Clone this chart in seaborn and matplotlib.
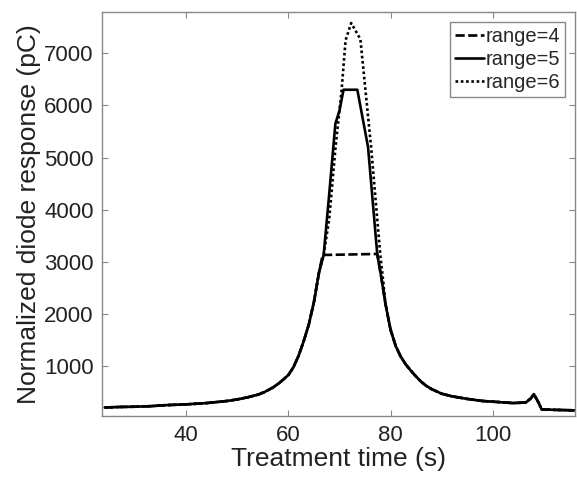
import matplotlib
matplotlib.use('Agg')
from matplotlib import pyplot as plt
import seaborn as sns
import pandas as pd

sns.set_theme(style='white')
plt.rcParams['font.family'] = ['Liberation Sans', 'DejaVu Sans']

# shared rise / tail of the diode curves
rise_t = [24, 27, 30, 33, 36, 40, 44, 48, 50, 52, 54, 55.3, 57, 58, 59, 60, 61, 62, 63, 64, 65, 66]
rise_v = [205, 215, 220, 230, 250, 265, 290, 330, 360, 400, 450, 500, 590, 660, 740, 830, 980, 1200, 1480, 1800, 2230, 2800]
tail_t = [79, 80, 81, 82, 83, 84, 85, 86, 87, 88, 90, 92, 95, 98, 104, 106.5, 107.5, 108.1, 109, 109.6, 112, 116]
tail_v = [2200, 1700, 1390, 1180, 1030, 910, 800, 700, 620, 560, 470, 420, 370, 330, 290, 300, 380, 460, 300, 170, 160, 150]

# peak region per range setting
peak4_t = [66.7, 77.4, 78.2]
peak4_v = [3130, 3150, 2700]
peak5_t = [66.9, 67.9, 69.2, 70.0, 70.8, 73.5, 75.6, 77.4, 78.2]
peak5_v = [3130, 4200, 5650, 5900, 6300, 6300, 5200, 3150, 2700]
peak6_t = [66.9, 68.0, 69.2, 70.4, 71.2, 72.3, 74.1, 76.2, 78.0, 78.6]
peak6_v = [3130, 3830, 5170, 6270, 7250, 7580, 7270, 5200, 3130, 2600]

labels = ['range=4', 'range=5', 'range=6']
peaks = [(peak4_t, peak4_v), (peak5_t, peak5_v), (peak6_t, peak6_v)]

rows = []
for lab, (pt, pv) in zip(labels, peaks):
    for t, v in zip(rise_t + pt + tail_t, rise_v + pv + tail_v):
        rows.append([t, v, lab])
df = pd.DataFrame(rows, columns=['time', 'response', 'range'])

fig, ax = plt.subplots(figsize=(5.77, 4.83), dpi=100)
sns.lineplot(
    data=df, x='time', y='response', hue='range', style='range',
    palette=['black'] * 3,
    dashes={'range=4': (3.5, 1.3), 'range=5': '', 'range=6': (1.0, 1.0)},
    estimator=None, sort=False, linewidth=1.9, ax=ax,
)

handles, labs = ax.get_legend_handles_labels()
ax.legend(handles, labs, loc='upper right', fontsize=14.5, handlelength=1.4,
          handletextpad=0.1, borderpad=0.25, labelspacing=0.2, borderaxespad=0.5,
          fancybox=False, edgecolor='#888888', framealpha=1)

ax.set_xlim(23.5, 116.2)
ax.set_ylim(35, 7790)
ax.set_xticks([40, 60, 80, 100])
ax.set_yticks([1000, 2000, 3000, 4000, 5000, 6000, 7000])
ax.tick_params(direction='in', length=4, width=0.8, colors='#888888', labelcolor='#222222',
               labelsize=16, pad=6, top=True, right=True, bottom=True, left=True)
for s in ax.spines.values():
    s.set_color('#888888')
    s.set_linewidth(1.0)
ax.set_xlabel('Treatment time (s)', fontsize=19, color='#222222', labelpad=1)
ax.set_ylabel('Normalized diode response (pC)', fontsize=19, color='#222222', labelpad=2)

fig.subplots_adjust(left=0.177, right=0.997, bottom=0.138, top=0.975)
fig.savefig('out.png', dpi=100)
